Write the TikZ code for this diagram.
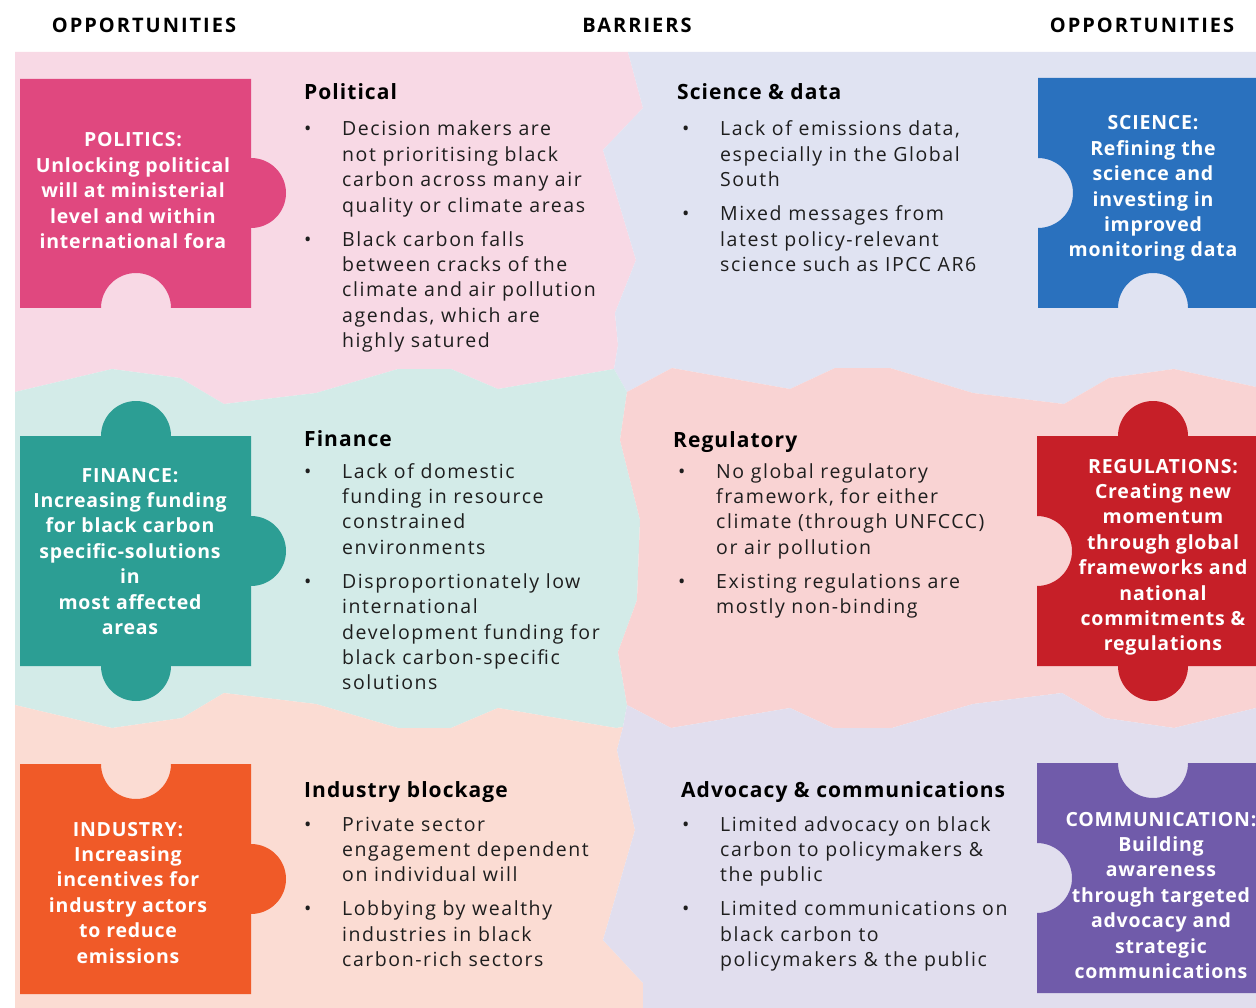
\documentclass[tikz,border=0pt]{standalone}
\usepackage{fontspec}
\setmainfont{Open Sans}
\newfontfamily\hdrfont[LetterSpace=10]{Open Sans}
\newfontfamily\ttlfont[LetterSpace=5]{Open Sans}
\newfontfamily\bltfont[LetterSpace=8]{Open Sans}
\newfontfamily\pzfont[LetterSpace=4]{Open Sans}
% region backgrounds
\definecolor{bgpol}{HTML}{F8D9E5}
\definecolor{bgsci}{HTML}{E0E3F2}
\definecolor{bgfin}{HTML}{D3EBE8}
\definecolor{bgreg}{HTML}{F9D3D3}
\definecolor{bgind}{HTML}{FBDCD3}
\definecolor{bgcom}{HTML}{E1DEEE}
% puzzle pieces
\definecolor{pzpol}{HTML}{E0487F}
\definecolor{pzsci}{HTML}{2A71BE}
\definecolor{pzfin}{HTML}{2C9E94}
\definecolor{pzreg}{HTML}{C61F28}
\definecolor{pzind}{HTML}{F05A28}
\definecolor{pzcom}{HTML}{705BAA}
\definecolor{txt}{HTML}{1E1E1E}
\newcommand{\bitem}{\makebox[38pt][l]{\textbullet}}
\begin{document}
\begin{tikzpicture}[x=1pt,y=-1pt,
  hdr/.style={font=\hdrfont\fontsize{20}{24}\selectfont\bfseries, anchor=base, inner sep=0, text=black},
  ttl/.style={font=\ttlfont\fontsize{21}{25}\selectfont\bfseries, anchor=base west, inner sep=0, text=black},
  blt/.style={font=\bltfont\fontsize{19.5}{25.4}\selectfont, anchor=base west, inner sep=0, text=txt},
  pz/.style={font=\pzfont\fontsize{19.5}{25.4}\selectfont\bfseries, anchor=base, inner sep=0, text=white},
]
\useasboundingbox (0,0) rectangle (1256,1008);
\fill[white] (0,0) rectangle (1256,1008);
\clip (0,0) rectangle (1256,1008);

% ---- background regions ----
\fill[bgpol] (15,52) -- (628,52) -- (643,108) -- (603,150) -- (636,260) -- (615,313) -- (618,345) -- (614,369)
  -- (498,389) -- (451,369) -- (398,369) -- (316,393) -- (224,404) -- (180,378) -- (112,369) -- (15,392) -- cycle;
\fill[bgsci] (628,52) -- (1256,52) -- (1256,387) -- (1174,369) -- (1109,378) -- (1064,404) -- (973,393)
  -- (890,368) -- (835,368) -- (790,389) -- (672,368) -- (627,392) -- (614,369) -- (618,345) -- (615,313)
  -- (636,260) -- (603,150) -- (643,108) -- cycle;
\fill[bgfin] (15,392) -- (112,369) -- (180,378) -- (224,404) -- (316,393) -- (398,369) -- (451,369) -- (498,389)
  -- (614,369) -- (627,392) -- (620,440) -- (640,520) -- (637,600) -- (618,652) -- (627,705) -- (623,727)
  -- (616,728) -- (498,708) -- (451,728) -- (398,728) -- (316,704) -- (224,693) -- (182,718) -- (112,728)
  -- (15,705) -- cycle;
\fill[bgreg] (627,392) -- (672,368) -- (790,389) -- (835,368) -- (890,368) -- (973,393) -- (1064,404)
  -- (1109,378) -- (1174,369) -- (1256,387) -- (1256,708) -- (1174,728) -- (1105,718) -- (1062,693)
  -- (973,704) -- (892,728) -- (833,728) -- (790,708) -- (671,728) -- (627,705) -- (618,652) -- (637,600)
  -- (640,520) -- (620,440) -- cycle;
\fill[bgind] (15,705) -- (112,728) -- (182,718) -- (224,693) -- (316,704) -- (398,728) -- (451,728)
  -- (498,708) -- (616,728) -- (623,727) -- (617,750) -- (635,830) -- (603,940) -- (643,983) -- (643,1008)
  -- (15,1008) -- cycle;
\fill[bgcom] (627,705) -- (671,728) -- (790,708) -- (833,728) -- (892,728) -- (973,704) -- (1062,693)
  -- (1105,718) -- (1174,728) -- (1256,708) -- (1256,1008) -- (643,1008) -- (643,983) -- (603,940)
  -- (635,830) -- (617,750) -- (623,727) -- cycle;

% ---- column headers ----
\node[hdr] (hopl) at (144,33) {OPPORTUNITIES};
\node[hdr] (hbar) at (637,33) {BARRIERS};
\node[hdr] (hopr) at (1142,33) {OPPORTUNITIES};

% ---- puzzle pieces ----
\fill[pzpol] (20,79) -- (251,79) -- (251,158) arc[start angle=-90,end angle=90,radius=35] -- (251,308)
  -- (171,308) arc[start angle=0,end angle=-180,radius=35] -- (20,308) -- cycle;
\fill[pzsci] (1038,78) -- (1290,78) -- (1290,308) -- (1188,308) arc[start angle=0,end angle=-180,radius=35]
  -- (1038,308) -- (1038,228) arc[start angle=90,end angle=-90,radius=35] -- cycle;
\fill[pzfin] (20,436) -- (101,436) arc[start angle=180,end angle=360,radius=35] -- (251,436) -- (251,516)
  arc[start angle=-90,end angle=90,radius=35] -- (251,666) -- (171,666) arc[start angle=0,end angle=180,radius=35]
  -- (20,666) -- cycle;
\fill[pzreg] (1037,436) -- (1118,436) arc[start angle=180,end angle=360,radius=35] -- (1290,436) -- (1290,666)
  -- (1188,666) arc[start angle=0,end angle=180,radius=35] -- (1037,666) -- (1037,586)
  arc[start angle=90,end angle=-90,radius=35] -- cycle;
\fill[pzind] (20,764) -- (101,764) arc[start angle=180,end angle=0,radius=35] -- (251,764) -- (251,844)
  arc[start angle=-90,end angle=90,radius=35] -- (251,994) -- (20,994) -- cycle;
\fill[pzcom] (1037,763) -- (1118,763) arc[start angle=180,end angle=0,radius=35] -- (1290,763) -- (1290,993)
  -- (1037,993) -- (1037,913) arc[start angle=90,end angle=-90,radius=35] -- cycle;

% ---- puzzle texts ----
\node[pz] (tpol) at (133,147) {\begin{tabular}[t]{@{}c@{}}POLITICS:\\Unlocking political\\will at ministerial\\level and within\\international fora\end{tabular}};
\node[pz] (tsci) at (1153,130) {\begin{tabular}[t]{@{}c@{}}SCIENCE:\\Refining the\\science and\\investing in\\improved\\monitoring data\end{tabular}};
\node[pz] (tfin) at (130,482) {\begin{tabular}[t]{@{}c@{}}FINANCE:\\Increasing funding\\for black carbon\\specific-solutions\\in\\most affected\\areas\end{tabular}};
\node[pz] (treg) at (1163,473) {\begin{tabular}[t]{@{}c@{}}REGULATIONS:\\Creating new\\momentum\\through global\\frameworks and\\national\\commitments \&\\regulations\end{tabular}};
\node[pz] (tind) at (128,836) {\begin{tabular}[t]{@{}c@{}}INDUSTRY:\\Increasing\\incentives for\\industry actors\\to reduce\\emissions\end{tabular}};
\node[pz] (tcom) at (1161,826) {\begin{tabular}[t]{@{}c@{}}COMMUNICATION:\\Building\\awareness\\through targeted\\advocacy and\\strategic\\communications\end{tabular}};

% ---- barrier headings ----
\node[ttl] (bpol) at (304,100) {Political};
\node[ttl] (bsci) at (677,100) {Science \& data};
\node[ttl] (bfin) at (304,446) {Finance};
\node[ttl] (breg) at (673,447) {Regulatory};
\node[ttl] (bind) at (304,797) {Industry blockage};
\node[ttl] (bcom) at (681,797) {Advocacy \& communications};

% ---- barrier bullets ----
\node[blt] (lpol) at (304,136) {\begin{tabular}[t]{@{}l@{}l@{}}
  \bitem&Decision makers are\\&not prioritising black\\&carbon across many air\\&quality or climate areas\\[8.6pt]
  \bitem&Black carbon falls\\&between cracks of the\\&climate and air pollution\\&agendas, which are\\&highly satured\end{tabular}};
\node[blt] (lsci) at (682,136) {\begin{tabular}[t]{@{}l@{}l@{}}
  \bitem&Lack of emissions data,\\&especially in the Global\\&South\\[8.6pt]
  \bitem&Mixed messages from\\&latest policy-relevant\\&science such as IPCC AR6\end{tabular}};
\node[blt] (lfin) at (304,478) {\begin{tabular}[t]{@{}l@{}l@{}}
  \bitem&Lack of domestic\\&funding in resource\\&constrained\\&environments\\[8.6pt]
  \bitem&Disproportionately low\\&international\\&development funding for\\&black carbon-specific\\&solutions\end{tabular}};
\node[blt] (lreg) at (678,478) {\begin{tabular}[t]{@{}l@{}l@{}}
  \bitem&No global regulatory\\&framework, for either\\&climate (through UNFCCC)\\&or air pollution\\[8.6pt]
  \bitem&Existing regulations are\\&mostly non-binding\end{tabular}};
\node[blt] (lind) at (304,831) {\begin{tabular}[t]{@{}l@{}l@{}}
  \bitem&Private sector\\&engagement dependent\\&on individual will\\[8.6pt]
  \bitem&Lobbying by wealthy\\&industries in black\\&carbon-rich sectors\end{tabular}};
\node[blt] (lcom) at (682,831) {\begin{tabular}[t]{@{}l@{}l@{}}
  \bitem&Limited advocacy on black\\&carbon to policymakers \&\\&the public\\[8.6pt]
  \bitem&Limited communications on\\&black carbon to\\&policymakers \& the public\end{tabular}};
\end{tikzpicture}
\end{document}
